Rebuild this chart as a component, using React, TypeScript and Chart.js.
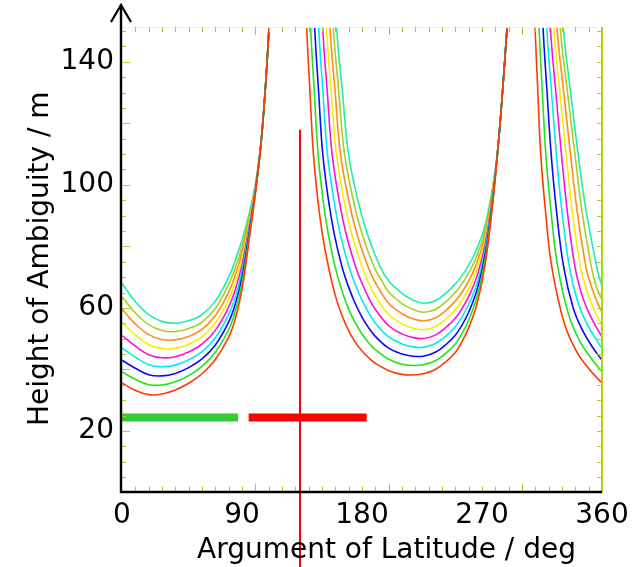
import React, { useEffect, useRef } from "react";
import { Chart, registerables } from "chart.js";

Chart.register(...registerables);

const FONT_FAMILY = '"DejaVu Sans", "Liberation Sans", Arial, sans-serif';

const X_TICKS = [0, 90, 180, 270, 360];
const Y_TICKS = [20, 60, 100, 140];
const X_RANGE = [0, 360];
const Y_RANGE = [0, 151.3];

const X_TITLE = "Argument of Latitude / deg";
const Y_TITLE = "Height of Ambiguity / m";

const CURVE_COLORS = [
  "#ff3a00",
  "#1ee61e",
  "#0a0aff",
  "#00ecec",
  "#ff10d8",
  "#f2f200",
  "#ff8c1e",
  "#a6d21e",
  "#1ef0a6",
];

// branch 1 : 0 .. ~111 deg (shared x grid)
const BRANCH1_X = [0, 10, 20, 30, 40, 50, 60, 70, 80, 85, 90, 95, 100, 104, 107, 109.5, 111, 113];
const BRANCH1_Y = [
  [35.6, 33.2, 31.8, 32.0, 33.3, 35.5, 38.6, 43.2, 50.5, 56.5, 66.0, 81.0, 97.0, 112.0, 128.0, 145, 158, 175],
  [39.2, 36.8, 35.05, 34.95, 36.0, 38.0, 41.0, 45.6, 52.9, 58.9, 68.0, 82.1, 97.4, 112.1, 128.1, 145, 158, 175],
  [43.0, 40.4, 38.3, 37.9, 38.7, 40.6, 43.4, 47.95, 55.4, 61.25, 70.0, 83.25, 97.75, 112.25, 128.1, 145, 158, 175],
  [47.0, 44.0, 41.55, 40.85, 41.4, 43.1, 45.8, 50.3, 57.8, 63.6, 72.0, 84.4, 98.1, 112.4, 128.2, 145, 158, 175],
  [51.0, 47.6, 44.8, 43.8, 44.15, 45.65, 48.2, 52.7, 60.25, 66.0, 74.0, 85.5, 98.5, 112.5, 128.25, 145, 158, 175],
  [55.2, 51.2, 48.05, 46.75, 46.85, 48.2, 50.6, 55.1, 62.7, 68.4, 76.0, 86.6, 98.9, 112.6, 128.3, 145, 158, 175],
  [59.6, 54.8, 51.3, 49.7, 49.6, 50.7, 53.0, 57.45, 65.1, 70.75, 78.0, 87.75, 99.25, 112.75, 128.4, 145, 158, 175],
  [63.6, 58.4, 54.55, 52.65, 52.3, 53.3, 55.4, 59.8, 67.6, 73.1, 80.0, 88.9, 99.6, 112.9, 128.4, 145, 158, 175],
  [68.0, 62.0, 57.8, 55.6, 55.0, 55.8, 57.8, 62.2, 70.0, 75.5, 82.0, 90.0, 100.0, 113.0, 128.5, 145, 158, 175],
];

// branch 2 : ~137 .. ~290 deg
const BRANCH2_PTS = [
  [[136.5,175],[138.5,151],[141,130],[143.5,110.3],[146.9,95],[150.3,84],[154.8,73.4],[160,64],[165,57.5],[170,52.5],[175,48.8],[180,46],[185,43.8],[190,42],[200,39.6],[210,38.4],[218,38.2],[226,38.6],[235,40.0],[243,42.5],[250,45.5],[255,49],[260,53.5],[265,59.5],[268,64.5],[270,68.5],[273,76],[276,86],[279,98],[281,107],[283,117],[285,128],[287,140],[289,153],[291,172]],
  [[139.5,175],[141.5,151],[144.25,130],[147,110.3],[150.8,95],[154.7,84],[159.8,73.4],[165,65.5],[170,59.6],[175,55.1],[180,51.5],[185,48.7],[190,46.4],[200,43.3],[210,41.7],[218,41.3],[226,41.5],[235,42.8],[243,45.3],[250,48.3],[255,51.7],[260,56.0],[265,61.8],[268,66.6],[270,70.4],[273,77.5],[276,87.1],[279,98.5],[281,107.2],[283,117],[285,128],[287,140],[289,153],[291,172]],
  [[142.5,175],[144.5,151],[147.5,130],[150.5,110.3],[154.85,95],[159.2,84],[165,73.4],[170,66.75],[175,61.35],[180,57],[185,53.5],[190,50.75],[200,46.9],[210,45.0],[218,44.3],[226,44.3],[235,45.6],[243,48.1],[250,51.1],[255,54.4],[260,58.6],[265,64.1],[268,68.7],[270,72.25],[273,79],[276,88.1],[279,99],[281,107.4],[283,117],[285,128],[287,140],[289,153],[291,172]],
  [[145.5,175],[147.5,151],[150.75,130],[154,110.3],[158.9,95],[163.7,84],[170.2,73.4],[175,67.6],[180,62.5],[185,58.4],[190,55.1],[200,50.55],[210,48.3],[218,47.35],[226,47.2],[235,48.4],[243,50.9],[250,53.9],[255,57.1],[260,61.1],[265,66.4],[268,70.8],[270,74.1],[273,80.5],[276,89.2],[279,99.5],[281,107.6],[283,117],[285,128],[287,140],[289,153],[291,172]],
  [[148.5,175],[150.5,151],[154,130],[157.5,110.3],[162.8,95],[168.1,84],[175.2,73.4],[180,68],[185,63.25],[190,59.5],[200,54.2],[210,51.55],[218,50.4],[226,50.05],[235,51.15],[243,53.65],[250,56.65],[255,59.75],[260,63.65],[265,68.75],[268,72.9],[270,76],[273,82],[276,90.25],[279,100],[281,107.75],[283,117],[285,128],[287,140],[289,153],[291,172]],
  [[151.3,175],[153.3,151],[157,130],[160.7,110.3],[166.5,95],[172.3,84],[180,73.4],[185,68.1],[190,63.9],[200,57.85],[210,54.8],[218,53.45],[226,52.9],[235,53.9],[243,56.4],[250,59.4],[255,62.4],[260,66.2],[265,71.1],[268,75.0],[270,77.9],[273,83.5],[276,91.3],[279,100.5],[281,107.9],[283,117],[285,128],[287,140],[289,153],[291,172]],
  [[154,175],[156,151],[159.9,130],[163.8,110.3],[170,95],[176.2,84],[184.5,73.4],[190,68.25],[200,61.5],[210,58.1],[218,56.5],[226,55.8],[235,56.7],[243,59.2],[250,62.2],[255,65.1],[260,68.7],[265,73.4],[268,77.1],[270,79.75],[273,85],[276,92.4],[279,101],[281,108.1],[283,117],[285,128],[287,140],[289,153],[291,172]],
  [[156.5,175],[158.5,151],[162.65,130],[166.8,110.3],[173.5,95],[180.1,84],[189,73.4],[195,68.6],[200,65.15],[210,61.4],[218,59.55],[226,58.6],[235,59.5],[243,62.0],[250,65.0],[255,67.8],[260,71.3],[265,75.7],[268,79.2],[270,81.6],[273,86.5],[276,93.4],[279,101.5],[281,108.3],[283,117],[285,128],[287,140],[289,153],[291,172]],
  [[159,175],[161,151],[165.4,130],[169.8,110.3],[176.9,95],[184,84],[193.5,73.4],[200,68.8],[210,64.7],[218,62.6],[226,61.5],[235,62.3],[243,64.8],[250,67.8],[255,70.5],[260,73.8],[265,78],[268,81.3],[270,83.5],[273,88],[276,94.5],[279,102],[281,108.5],[283,117],[285,128],[287,140],[289,153],[291,172]],
];

// branch 3 : ~308 .. 360 deg
const BRANCH3_PTS = [
  [[307.8,175],[309.8,151],[311.9,130],[314,110.3],[317.5,92],[322.3,73.4],[331.7,55],[341.2,45.6],[350.6,40],[360,35.6]],
  [[310.8,175],[312.8,151],[315.3,130],[317.8,110.3],[321.6,92],[326.8,73.4],[335.1,57.6],[343.4,49.1],[351.7,43.7],[360,39.3]],
  [[313.8,175],[315.8,151],[318.8,130],[321.8,110.3],[325.75,92],[331.2,73.4],[338.4,60.0],[345.6,52.5],[352.8,47.3],[360,43.0]],
  [[316.6,175],[318.6,151],[322.15,130],[325.7,110.3],[329.8,92],[335.5,73.4],[341.6,62.3],[347.75,55.7],[353.9,50.9],[360,46.8]],
  [[319.3,175],[321.3,151],[325.4,130],[329.5,110.3],[333.8,92],[339.7,73.4],[344.8,64.4],[349.85,58.7],[354.9,54.4],[360,50.6]],
  [[321.9,175],[323.9,151],[328.45,130],[333,110.3],[337.5,92],[343.8,73.4],[347.85,66.7],[351.9,61.6],[355.95,57.6],[360,54.6]],
  [[324.3,175],[326.3,151],[331.3,130],[336.3,110.3],[341.2,92],[347.9,73.4],[350.9,68.5],[354,64.5],[357,61.3],[360,58.6]],
  [[326.7,175],[328.7,151],[334.15,130],[339.6,110.3],[344.8,92],[352,73.4],[354,69.7],[356,66.6],[358,64.4],[360,62.6]],
  [[329,175],[331,151],[336.5,130],[342,110.3],[347.9,92],[356,73.4],[357,71.5],[358,69.9],[359,68.4],[360,67.0]],
];

const GREEN_BAR = [[0, 24.4], [87, 24.4]];
const RED_BAR = [[95, 24.4], [183.5, 24.4]];
const RED_MARKER = [[133.5, 117.9], [133.5, -25]];

const TICK_COLOR = "#a8d41c";

const toXY = (pts: number[][]) => pts.map(([x, y]) => ({ x, y }));

const decorPlugin = {
  id: "decor",
  afterDraw(chart: any) {
    const { ctx, chartArea: ca, scales } = chart;
    const xs = scales.x;
    const ys = scales.y;
    ctx.save();
    // faint top border
    ctx.strokeStyle = "#edf3dc";
    ctx.lineWidth = 1;
    ctx.beginPath();
    ctx.moveTo(ca.left, ca.top + 0.5);
    ctx.lineTo(ca.right, ca.top + 0.5);
    ctx.stroke();
    // x minor ticks (top and bottom)
    ctx.strokeStyle = TICK_COLOR;
    ctx.lineWidth = 1;
    for (let v = 10; v < 360; v += 10) {
      const px = Math.round(xs.getPixelForValue(v)) + 0.5;
      const len = v % 100 === 0 ? 8 : 5;
      ctx.beginPath();
      ctx.moveTo(px, ca.top);
      ctx.lineTo(px, ca.top + len);
      ctx.moveTo(px, ca.bottom - 1);
      ctx.lineTo(px, ca.bottom - 1 - len);
      ctx.stroke();
    }
    // y ticks (left and right)
    for (let v = 5; v <= 150; v += 5) {
      const py = Math.round(ys.getPixelForValue(v)) + 0.5;
      const len = v % 20 === 0 ? 8 : 4;
      ctx.beginPath();
      ctx.moveTo(ca.left, py);
      ctx.lineTo(ca.left + len, py);
      ctx.moveTo(ca.right, py);
      ctx.lineTo(ca.right - 5, py);
      ctx.stroke();
    }
    // right border
    ctx.lineWidth = 2;
    ctx.beginPath();
    ctx.moveTo(ca.right, ca.top);
    ctx.lineTo(ca.right, ca.bottom);
    ctx.stroke();
    // black axes
    ctx.strokeStyle = "#000";
    ctx.lineWidth = 2.4;
    ctx.beginPath();
    ctx.moveTo(ca.left - 1, ca.bottom);
    ctx.lineTo(ca.left - 1, 5);
    ctx.moveTo(ca.left - 2.2, ca.bottom - 0.5);
    ctx.lineTo(ca.right, ca.bottom - 0.5);
    ctx.stroke();
    ctx.lineWidth = 2.2;
    ctx.beginPath();
    ctx.moveTo(ca.left - 11, 22);
    ctx.lineTo(ca.left - 1, 5);
    ctx.lineTo(ca.left + 9, 22);
    ctx.stroke();
    // axis titles
    ctx.fillStyle = "#000";
    ctx.font = `28px ${FONT_FAMILY}`;
    ctx.textAlign = "center";
    ctx.textBaseline = "alphabetic";
    ctx.fillText(X_TITLE, 386.5, 558);
    ctx.translate(48, (ca.top + ca.bottom) / 2 - 1);
    ctx.rotate(-Math.PI / 2);
    ctx.fillText(Y_TITLE, 0, 0);
    ctx.restore();
  },
};

export default function App() {
  const ref = useRef<HTMLCanvasElement | null>(null);

  useEffect(() => {
    document.body.style.margin = "0";
    const canvas = ref.current;
    if (!canvas) return;

    const markerSets: any[] = [
      {
        data: toXY(RED_MARKER),
        borderColor: "#ff0000",
        borderWidth: 2,
        pointRadius: 0,
        clip: false,
        tension: 0,
      },
      {
        data: toXY(GREEN_BAR),
        borderColor: "#33cc33",
        borderWidth: 8,
        borderCapStyle: "butt",
        pointRadius: 0,
        tension: 0,
      },
      {
        data: toXY(RED_BAR),
        borderColor: "#ff0000",
        borderWidth: 8,
        borderCapStyle: "butt",
        pointRadius: 0,
        tension: 0,
      },
    ];

    const curveSets = CURVE_COLORS.map((color, k) => {
      const b1 = BRANCH1_X.map((x, i) => ({ x, y: BRANCH1_Y[k][i] as number | null }));
      const data = [
        ...b1,
        { x: 125, y: null },
        ...toXY(BRANCH2_PTS[k]),
        { x: 300, y: null },
        ...toXY(BRANCH3_PTS[k]),
      ];
      return {
        data,
        borderColor: color,
        borderWidth: 1.6,
        pointRadius: 0,
        tension: 0.4,
        spanGaps: false,
      };
    });

    const tickFont = { family: FONT_FAMILY, size: 28 };

    const chart = new Chart(canvas, {
      type: "line",
      data: { datasets: [...markerSets, ...curveSets] as any },
      options: {
        animation: false,
        responsive: false,
        devicePixelRatio: 1,
        layout: { padding: { left: 0, top: 27, right: 34, bottom: 0 } },
        plugins: {
          legend: { display: false },
          tooltip: { enabled: false },
        },
        elements: { point: { radius: 0 } },
        scales: {
          x: {
            type: "linear",
            min: X_RANGE[0],
            max: X_RANGE[1],
            afterBuildTicks: (s: any) => {
              s.ticks = X_TICKS.map((value) => ({ value }));
            },
            afterFit: (s: any) => {
              s.height = 74.5;
            },
            grid: { display: false, drawTicks: false },
            border: { display: false },
            ticks: {
              font: tickFont,
              color: "#000",
              padding: 6,
              maxRotation: 0,
              autoSkip: false,
            },
          },
          y: {
            type: "linear",
            min: Y_RANGE[0],
            max: Y_RANGE[1],
            afterBuildTicks: (s: any) => {
              s.ticks = Y_TICKS.map((value) => ({ value }));
            },
            afterFit: (s: any) => {
              s.width = 122;
            },
            grid: { display: false, drawTicks: false },
            border: { display: false },
            ticks: {
              font: tickFont,
              color: "#000",
              padding: 8,
              autoSkip: false,
            },
          },
        },
      } as any,
      plugins: [decorPlugin],
    });

    return () => chart.destroy();
  }, []);

  return (
    <div style={{ position: "absolute", left: 0, top: 0, width: 636, height: 567 }}>
      <canvas ref={ref} width={636} height={567} style={{ width: 636, height: 567, display: "block" }} />
    </div>
  );
}
